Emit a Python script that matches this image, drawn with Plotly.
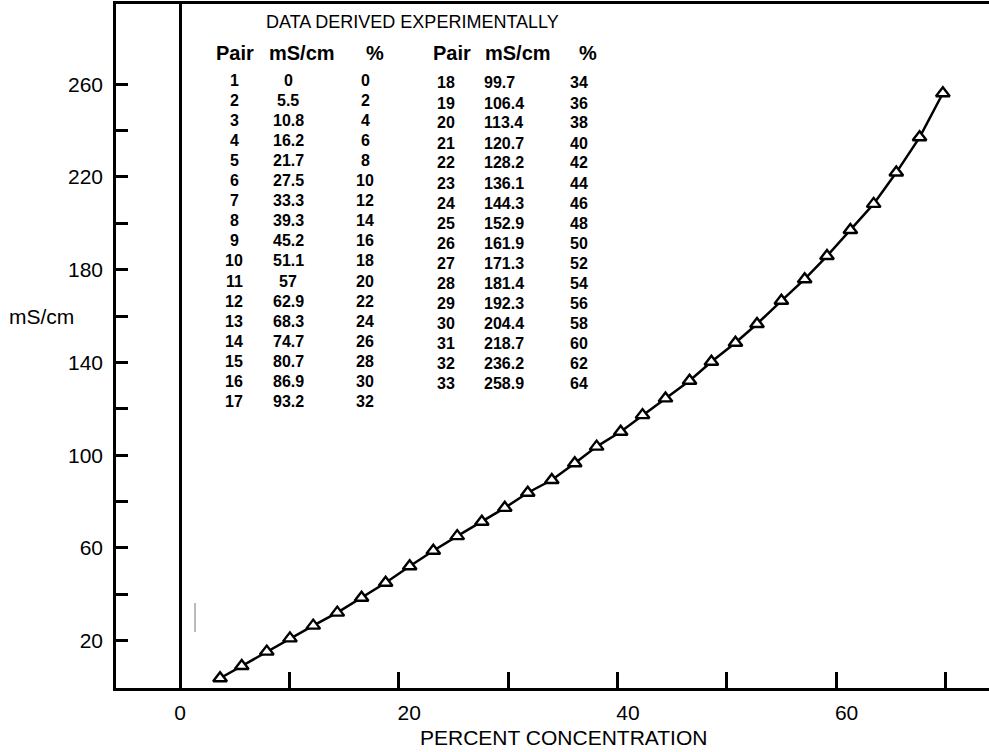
import plotly.graph_objects as go

# Plotted points
curve_x = [3.66, 5.64, 7.93, 10.05, 12.18, 14.38, 16.6, 18.8, 21.0, 23.16, 25.35,
           27.6, 29.7, 31.8, 34.0, 36.1, 38.1, 40.3, 42.3, 44.4, 46.6, 48.6, 50.8,
           52.77, 55.0, 57.13, 59.17, 61.31, 63.44, 65.51, 67.64, 69.77]
curve_y = [3.8, 9.1, 15.3, 21.0, 26.5, 32.1, 38.5, 45.0, 52.1, 58.8, 65.1,
           71.3, 77.3, 83.8, 89.3, 96.5, 103.7, 110.1, 117.3, 124.5, 132.1, 140.3, 148.5,
           156.6, 166.6, 175.9, 185.9, 197.1, 208.4, 221.9, 237.1, 256.1]

# Table printed on the chart
pair_left = [1, 2, 3, 4, 5, 6, 7, 8, 9, 10, 11, 12, 13, 14, 15, 16, 17]
ms_left = [0, 5.5, 10.8, 16.2, 21.7, 27.5, 33.3, 39.3, 45.2, 51.1, 57, 62.9, 68.3, 74.7, 80.7, 86.9, 93.2]
pct_left = [0, 2, 4, 6, 8, 10, 12, 14, 16, 18, 20, 22, 24, 26, 28, 30, 32]
pair_right = [18, 19, 20, 21, 22, 23, 24, 25, 26, 27, 28, 29, 30, 31, 32, 33]
ms_right = [99.7, 106.4, 113.4, 120.7, 128.2, 136.1, 144.3, 152.9, 161.9, 171.3, 181.4,
            192.3, 204.4, 218.7, 236.2, 258.9]
pct_right = [34, 36, 38, 40, 42, 44, 46, 48, 50, 52, 54, 56, 58, 60, 62, 64]

x_ticks = [0, 10, 20, 30, 40, 50, 60, 70]
x_ticktext = ['0', '', '\u200320', '', '\u200340', '', '\u200360', '']
y_ticks = [20, 40, 60, 80, 100, 120, 140, 160, 180, 200, 220, 240, 260]
y_ticktext = ['20', '', '60', '', '100', '', '140', '', '180', '', '220', '', '260']

FONT = 'Liberation Sans, Arial, sans-serif'
L, T, W, H = 116, 4, 873, 684


def px(x):
    return (x - L) / W


def py(y):
    return (T + H - y) / H


fig = go.Figure()
fig.add_trace(go.Scatter(
    x=curve_x, y=curve_y, mode='lines+markers',
    line=dict(color='black', width=2.5),
    marker=dict(symbol='triangle-up', size=12, color='white',
                line=dict(color='black', width=2.4)),
    hoverinfo='skip'
))

ann = []


def txt(x, y, s, size, bold=False, xanchor='center'):
    ann.append(dict(x=px(x), y=py(y), xref='paper', yref='paper', text=f'<b>{s}</b>' if bold else s,
                    showarrow=False, xanchor=xanchor, yanchor='middle',
                    font=dict(family=FONT, size=size, color='black')))


txt(412, 22, 'DATA DERIVED EXPERIMENTALLY', 18)
for x0, s in [(235, 'Pair'), (302, 'mS/cm'), (375, '%'), (452, 'Pair'), (518, 'mS/cm'), (588, '%')]:
    txt(x0, 53, s, 20, bold=True)

for i, (p, m, c) in enumerate(zip(pair_left, ms_left, pct_left)):
    y0 = 80 + i * 20.1
    txt(234, y0, str(p), 16, bold=True)
    txt(288, y0, f'{m:g}', 16, bold=True)
    txt(365, y0, str(c), 16, bold=True)

for i, (p, m, c) in enumerate(zip(pair_right, ms_right, pct_right)):
    y0 = 83 + i * 20.0
    txt(446, y0, str(p), 16, bold=True)
    txt(482, y0, f'{m:g}', 16, bold=True, xanchor='left')
    txt(568, y0, str(c), 16, bold=True, xanchor='left')

txt(41, 316, 'mS/cm', 21)
txt(563, 737, 'PERCENT CONCENTRATION', 21)

fig.update_layout(
    width=989, height=752,
    margin=dict(l=L, r=0, t=T, b=752 - T - H),
    plot_bgcolor='white', paper_bgcolor='white',
    showlegend=False,
    annotations=ann,
    font=dict(family=FONT, size=21, color='black'),
    shapes=[dict(type='line', xref='paper', yref='paper', x0=px(195), x1=px(195),
                 y0=py(603), y1=py(632), line=dict(color='#777', width=1))],
)
fig.update_xaxes(
    range=[-5.86, 73.99], showgrid=False,
    zeroline=True, zerolinecolor='black', zerolinewidth=2.5,
    showline=True, linecolor='black', linewidth=3, mirror=True,
    ticks='inside', ticklen=16, tickwidth=2.5, tickcolor='black',
    tickvals=x_ticks, ticktext=x_ticktext, ticklabelstandoff=4,
    tickfont=dict(family=FONT, size=21, color='black')
)
fig.update_yaxes(
    range=[-0.4, 294.6], showgrid=False, zeroline=False,
    showline=True, linecolor='black', linewidth=2.5,
    ticks='inside', ticklen=12, tickwidth=2.5, tickcolor='black',
    tickvals=y_ticks, ticktext=y_ticktext, ticklabelstandoff=6,
    tickfont=dict(family=FONT, size=21, color='black')
)

fig.write_html('out.html', config={'displayModeBar': False},
               post_script="document.body.style.margin='0';document.body.style.overflow='hidden';")
